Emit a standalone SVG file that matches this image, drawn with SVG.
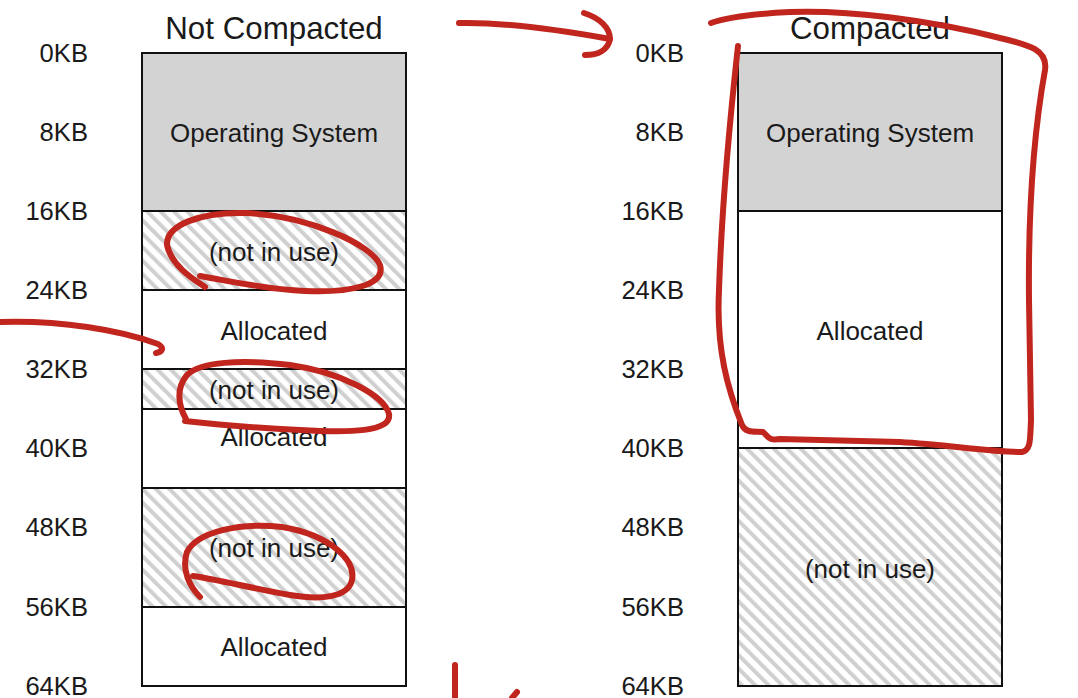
<svg xmlns="http://www.w3.org/2000/svg" width="1078" height="698" viewBox="0 0 1078 698">
<style>
text{font-family:"Liberation Sans",Arial,sans-serif;fill:#1a1a1a}
.t{font-size:31.3px;text-anchor:middle}
.lbl{font-size:25.6px;text-anchor:end}
.in{font-size:26px;text-anchor:middle}
.blk{stroke:#111;stroke-width:2}
.os{fill:#d3d3d3}
.al{fill:#ffffff}
.fr{fill:url(#hatch)}
.red{fill:none;stroke:#c0261d;stroke-width:6;stroke-linecap:round;stroke-linejoin:round}
</style>
<defs>
<pattern id="hatch" patternUnits="userSpaceOnUse" width="9.5" height="9.5" patternTransform="rotate(-45)">
<rect width="9.5" height="9.5" fill="#ffffff"/>
<rect x="0" y="0" width="4" height="9.5" fill="#d0d0d0"/>
</pattern>
</defs>
<rect width="1078" height="698" fill="#ffffff"/>

<g id="left-column">
<text class="t" x="274" y="39">Not Compacted</text>
<g id="left-labels">
<text class="lbl" x="88" y="62">0KB</text>
<text class="lbl" x="88" y="141">8KB</text>
<text class="lbl" x="88" y="220">16KB</text>
<text class="lbl" x="88" y="299">24KB</text>
<text class="lbl" x="88" y="378">32KB</text>
<text class="lbl" x="88" y="457">40KB</text>
<text class="lbl" x="88" y="536">48KB</text>
<text class="lbl" x="88" y="616">56KB</text>
<text class="lbl" x="88" y="695">64KB</text>
</g>
<g id="L-os"><rect class="os blk" x="142" y="53" width="264" height="158"/><text class="in" x="274" y="142">Operating System</text></g>
<g id="L-free1"><rect class="fr blk" x="142" y="211" width="264" height="79"/><text class="in" x="274" y="261">(not in use)</text></g>
<g id="L-alloc1"><rect class="al blk" x="142" y="290" width="264" height="79"/><text class="in" x="274" y="340">Allocated</text></g>
<g id="L-free2"><rect class="fr blk" x="142" y="369" width="264" height="40"/><text class="in" x="274" y="399">(not in use)</text></g>
<g id="L-alloc2"><rect class="al blk" x="142" y="409" width="264" height="79"/><text class="in" x="274" y="446">Allocated</text></g>
<g id="L-free3"><rect class="fr blk" x="142" y="488" width="264" height="119"/><text class="in" x="274" y="557">(not in use)</text></g>
<g id="L-alloc3"><rect class="al blk" x="142" y="607" width="264" height="79"/><text class="in" x="274" y="656">Allocated</text></g>
</g>

<g id="right-column">
<text class="t" x="870" y="39">Compacted</text>
<g id="right-labels">
<text class="lbl" x="684" y="62">0KB</text>
<text class="lbl" x="684" y="141">8KB</text>
<text class="lbl" x="684" y="220">16KB</text>
<text class="lbl" x="684" y="299">24KB</text>
<text class="lbl" x="684" y="378">32KB</text>
<text class="lbl" x="684" y="457">40KB</text>
<text class="lbl" x="684" y="536">48KB</text>
<text class="lbl" x="684" y="616">56KB</text>
<text class="lbl" x="684" y="695">64KB</text>
</g>
<g id="R-os"><rect class="os blk" x="738" y="53" width="264" height="158"/><text class="in" x="870" y="142">Operating System</text></g>
<g id="R-alloc"><rect class="al blk" x="738" y="211" width="264" height="237"/><text class="in" x="870" y="340">Allocated</text></g>
<g id="R-free"><rect class="fr blk" x="738" y="448" width="264" height="238"/><text class="in" x="870" y="578">(not in use)</text></g>
</g>

<g id="annotations">
<path class="red" d="M459,23 C500,22 560,30 610,39"/>
<path class="red" d="M584,13 C600,18 610,28 610,39 C608,50 598,55 585,55"/>
<path class="red" d="M738,46 C732,100 722,200 719,290 C716,350 728,390 742,425 C746,434 756,431 763,432 C768,436 768,441 780,439 L900,442 C950,445 990,452 1022,452 C1031,450 1030,440 1031,420 L1029,300 C1028,200 1036,120 1045,70 C1048,50 1030,45 1000,38 C930,20 850,10 790,12 C750,14 725,18 711,23"/>
<path class="red" d="M0,322 C60,320 120,330 158,344 C165,348 162,352 156,353"/>
<path class="red" d="M205,287 C198,282 172,268 167,245 C166,225 200,212 245,213 C310,216 372,245 380,265 C386,285 350,293 305,291 C262,289 230,281 200,276"/>
<path class="red" d="M186,419 C178,405 176,388 187,375 C200,362 240,359 290,365 C340,372 384,395 389,414 C392,432 350,433 300,430 C260,428 220,425 185,421"/>
<path class="red" d="M200,597 C190,587 181,570 187,552 C197,532 240,522 282,527 C330,535 356,560 352,580 C348,598 320,600 290,595 C250,588 220,580 193,576"/>
<path class="red" d="M455,665 L455,698"/>
<path class="red" d="M517,692 L512,698"/>
</g>
</svg>
